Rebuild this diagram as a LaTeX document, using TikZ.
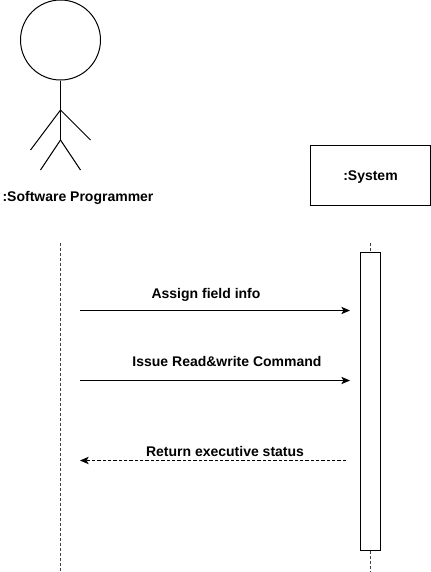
\documentclass[tikz,border=0pt]{standalone}
\usepackage{fontspec}
\setmainfont{Liberation Sans}
\usetikzlibrary{arrows.meta}
\tikzset{
  lbl/.style={inner sep=0pt,font=\fontsize{10.5pt}{12pt}\selectfont\bfseries,text=black},
  stick/.style={draw=black,line width=0.75pt},
  lifeline/.style={draw=black!75,line width=0.75pt,dash pattern=on 2.25pt off 1.5pt},
  msg/.style={draw=black,line width=0.75pt,-{Stealth[length=6.5pt,width=5.5pt,inset=1.6pt]}},
  ret/.style={msg,dash pattern=on 2.4pt off 1.6pt}
}
\begin{document}
\begin{tikzpicture}[x=0.75pt,y=-0.75pt]
\useasboundingbox (0,0) rectangle (431,572);
\fill[white] (0,0) rectangle (431,572);
% actor
\node[circle,draw=black,line width=0.75pt,minimum size=60pt,inner sep=0pt] (head) at (60.5,40) {};
\coordinate (hip) at (60.5,140);
\coordinate (shoulder) at (60.5,110);
\coordinate (handL) at (30.5,150);
\coordinate (handR) at (90.5,140);
\coordinate (footL) at (40.5,170);
\coordinate (footR) at (80.5,170);
\draw[stick] (head.south) -- (hip);
\draw[stick] (shoulder) -- (handL);
\draw[stick] (shoulder) -- (handR);
\draw[stick] (hip) -- (footL);
\draw[stick] (hip) -- (footR);
\node[lbl] (actor) at (78,198) {:Software Programmer};
% system
\node[draw=black,line width=0.75pt,minimum width=90pt,minimum height=45pt,inner sep=0pt] (sys) at (370.5,175.5) {};
\node[lbl] (sysl) at (370.5,177) {:System};
% lifelines
\coordinate (llTop) at (60.5,243);
\coordinate (llBot) at (60.5,572);
\draw[lifeline] (llTop) -- (llBot);
\node[draw=black,fill=white,line width=0.75pt,minimum width=15pt,minimum height=223.5pt,inner sep=0pt] (act) at (370.5,401.5) {};
\coordinate (slTop) at (370.5,243);
\coordinate (slBot) at (370.5,572);
\draw[lifeline] (slTop) -- (act.north);
\draw[lifeline] (act.south) -- (slBot);
% messages
\coordinate (a1) at (80,310.5); \coordinate (b1) at (350,310.5);
\coordinate (a2) at (80,380.5); \coordinate (b2) at (350,380.5);
\coordinate (a3) at (346,460.5); \coordinate (b3) at (80,460.5);
\draw[msg] (a1) -- (b1);
\draw[msg] (a2) -- (b2);
\draw[ret] (a3) -- (b3);
\node[lbl] (m1) at (206,295) {Assign field info};
\node[lbl] (m2) at (227,361) {Issue Read\&write Command};
\node[lbl] (m3) at (225,451) {Return executive status};
\end{tikzpicture}
\end{document}
